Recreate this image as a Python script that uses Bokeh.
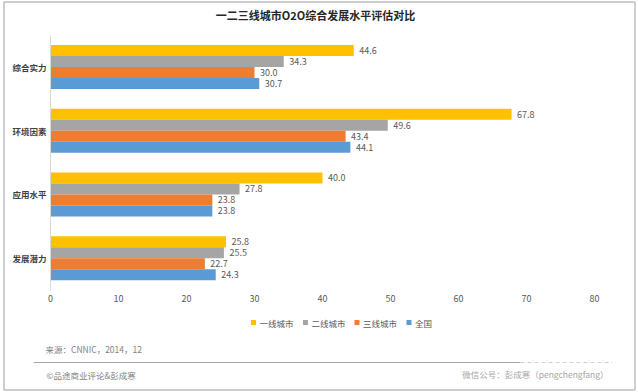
from bokeh.plotting import figure
from bokeh.models import (ColumnDataSource, Range1d, LinearAxis, FixedTicker)
from bokeh.transform import dodge
from bokeh.core.properties import value
from bokeh.embed import file_html
from bokeh.resources import INLINE

categories = ["综合实力", "环境因素", "应用水平", "发展潜力"]
series_names = ["一线城市", "二线城市", "三线城市", "全国"]
tier1 = [44.6, 67.8, 40.0, 25.8]
tier2 = [34.3, 49.6, 27.8, 25.5]
tier3 = [30.0, 43.4, 23.8, 22.7]
national = [30.7, 44.1, 23.8, 24.3]
x_ticks = [0, 10, 20, 30, 40, 50, 60, 70, 80]

title_text = "一二三线城市O2O综合发展水平评估对比"
source_text = "来源：CNNIC，2014，12"
copyright_text = "©品途商业评论&彭成寒"
wechat_text = "微信公号：彭成寒（pengchengfang）"

colors = ["#FFC000", "#A5A5A5", "#ED7D31", "#5B9BD5"]
FONT = "Noto Sans CJK SC"

# ---- layout constants (pixels on the canvas) ----
W, H = 637, 391
X0_PX, PX_PER_UNIT = 50, 6.8          # where value 0 sits, pixels per unit
ROW0_PX, ROW_STEP = 257.7, 63.73      # centre of the lowest category row, row spacing

x_start = -X0_PX / PX_PER_UNIT
x_end = x_start + W / PX_PER_UNIT
y_start = (ROW0_PX - H) / ROW_STEP
y_end = ROW0_PX / ROW_STEP

p = figure(width=W, height=H, output_backend="svg", toolbar_location=None,
           x_range=Range1d(x_start, x_end), y_range=Range1d(y_start, y_end),
           x_axis_location=None, y_axis_location=None, min_border=0)
p.extra_x_ranges = {"px": Range1d(0, W)}
p.extra_y_ranges = {"px": Range1d(H, 0)}
p.outline_line_color = None
p.grid.grid_line_color = None
p.background_fill_color = "white"
p.border_fill_color = "white"

# category rows: first category at the top
row_pos = [len(categories) - 1 - i for i in range(len(categories))]

src = ColumnDataSource(dict(row=row_pos, s0=tier1, s1=tier2, s2=tier3, s3=national,
                            t0=[f"{v:.1f}" for v in tier1], t1=[f"{v:.1f}" for v in tier2],
                            t2=[f"{v:.1f}" for v in tier3], t3=[f"{v:.1f}" for v in national]))

bh = 11 / ROW_STEP
offsets = [1.5 * bh, 0.5 * bh, -0.5 * bh, -1.5 * bh]
for i, name in enumerate(series_names):
    p.hbar(y=dodge("row", offsets[i]), right=f"s{i}", left=0,
           height=bh, color=colors[i], line_color=None, source=src)
    p.text(x=f"s{i}", y=dodge("row", offsets[i]), text=f"t{i}", source=src,
           x_offset=5.5, text_baseline="middle", text_align="left",
           text_font=value(FONT), text_font_size="9px", text_color="#595959")

# x axis (values)
xaxis = LinearAxis(ticker=FixedTicker(ticks=x_ticks), fixed_location=-0.5,
                   bounds=(0, 80))
xaxis.axis_line_color = None
xaxis.major_tick_line_color = None
xaxis.minor_tick_line_color = None
xaxis.major_tick_out = 0
xaxis.major_tick_in = 0
xaxis.major_label_text_font = FONT
xaxis.major_label_text_font_size = "9px"
xaxis.major_label_text_color = "#595959"
xaxis.major_label_standoff = 5
p.add_layout(xaxis, "below")

# y axis (categories)
yaxis = LinearAxis(ticker=FixedTicker(ticks=row_pos), fixed_location=0,
                   bounds=(-0.5, len(categories) - 0.5))
yaxis.major_label_overrides = {r: c for r, c in zip(row_pos, categories)}
yaxis.axis_line_color = "#D9D9D9"
yaxis.major_tick_line_color = None
yaxis.minor_tick_line_color = None
yaxis.major_tick_out = 0
yaxis.major_tick_in = 0
yaxis.major_label_text_font = FONT
yaxis.major_label_text_font_size = "8.5px"
yaxis.major_label_text_font_style = "bold"
yaxis.major_label_text_color = "#404040"
yaxis.major_label_standoff = 4
p.add_layout(yaxis, "left")

# ---- title, legend, footer (pixel coordinates) ----
px = dict(x_range_name="px", y_range_name="px")
p.text(x=[315], y=[14], text=[title_text], text_baseline="middle", text_align="center",
       text_font=value(FONT), text_font_size="11px", text_font_style="bold",
       text_color="#262626", **px)

legend_x = [253, 305, 356.5, 408.5]
legend_y = 322
p.scatter(x=legend_x, y=[legend_y] * 4, marker="square", size=5, color=colors,
          line_color=None, **px)
p.text(x=[x + 6 for x in legend_x], y=[legend_y] * 4, text=series_names,
       text_baseline="middle", text_align="left", text_font=value(FONT),
       text_font_size="8.5px", text_color="#595959", **px)

p.text(x=[45], y=[348], text=[source_text], text_baseline="middle", text_align="left",
       text_font=value(FONT), text_font_size="8.5px", text_color="#7F7F7F", **px)
p.segment(x0=[33], y0=[362], x1=[520], y1=[362], line_color="#A6A6A6", line_width=1, **px)
p.segment(x0=[520], y0=[362], x1=[612], y1=[362], line_color="#D0D0D0", line_width=1,
          line_dash="4 3", **px)
p.text(x=[46], y=[374], text=[copyright_text], text_baseline="middle", text_align="left",
       text_font=value(FONT), text_font_size="8.5px", text_color="#7F7F7F", **px)
p.text(x=[608], y=[373], text=[wechat_text], text_baseline="middle", text_align="right",
       text_font=value(FONT), text_font_size="8.5px", text_color="#A6A6A6", **px)

# outer frame
p.quad(left=[3.5], right=[634.5], top=[1.5], bottom=[389.5], fill_color=None,
       line_color="#BFBFBF", line_width=1.5, **px)

with open("out.html", "w") as fh:
    fh.write(file_html(p, INLINE))
